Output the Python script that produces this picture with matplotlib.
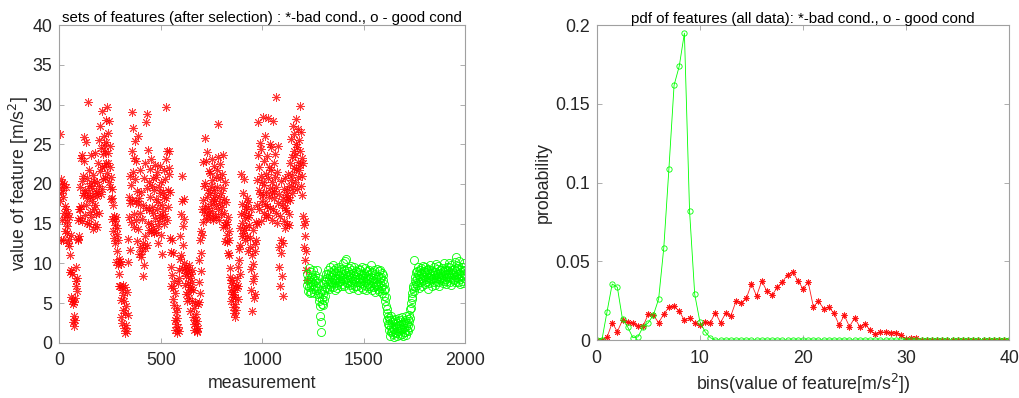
import numpy as np
import matplotlib
matplotlib.use("Agg")
import matplotlib.pyplot as plt

plt.rcParams['font.family'] = ['Liberation Sans', 'DejaVu Sans']

# ---------------- data: left panel (measurement index step 2) ----------------
red_start = 0
green_start = 1220
meas_step = 2

red_values = [
    19.5, 26.3, 17.8, 20.6, 13.0, 18.9, 15.5, 20.1, 18.3, 12.9,
    19.2, 16.4, 20.0, 15.8, 17.2, 14.1, 19.6, 16.9, 15.2, 13.8,
    14.7, 12.5, 16.3, 13.1, 15.9, 12.2, 11.0, 8.9, 13.6, 9.1,
    5.8, 8.6, 5.3, 4.9, 2.6, 5.1, 2.1, 3.4, 5.6, 2.9,
    9.5, 7.8, 7.2, 6.5, 8.1, 13.1, 12.9, 15.5, 13.4, 16.8,
    15.7, 16.9, 19.6, 23.3, 17.2, 20.4, 23.6, 15.3, 18.6, 21.0,
    22.9, 18.8, 25.9, 16.1, 19.3, 17.4, 25.3, 20.8, 18.2, 15.1,
    30.3, 18.9, 14.9, 21.8, 19.7, 16.5, 18.3, 23.7, 20.1, 15.8,
    17.9, 19.5, 14.3, 21.1, 18.6, 16.9, 20.4, 17.3, 23.9, 15.0,
    19.1, 16.2, 20.3, 18.5, 14.6, 22.7, 18.9, 25.5, 16.4, 19.8,
    21.6, 27.3, 18.7, 24.5, 19.4, 22.1, 29.2, 23.8, 20.6, 24.9,
    22.3, 26.1, 24.2, 20.8, 28.1, 22.7, 25.3, 21.4, 29.7, 23.9,
    26.4, 22.6, 27.9, 20.3, 24.8, 19.6, 22.2, 20.9, 18.1, 19.4,
    18.2, 15.6, 17.4, 14.1, 16.0, 13.2, 15.3, 12.5, 14.8, 10.2,
    15.9, 13.7, 11.6, 14.4, 9.8, 12.9, 10.6, 8.7, 7.1, 10.3,
    7.1, 5.4, 9.9, 3.2, 6.7, 2.5, 7.3, 4.1, 6.0, 1.9,
    5.3, 1.2, 3.8, 7.0, 2.2, 4.6, 1.5, 6.4, 10.2, 3.5,
    13.1, 15.8, 18.3, 11.7, 21.0, 17.6, 15.2, 19.9, 24.1, 29.1,
    18.0, 27.1, 21.5, 16.2, 23.3, 14.6, 25.4, 20.6, 17.8, 15.5,
    22.9, 19.1, 12.8, 17.5, 14.3, 26.0, 18.2, 11.2, 21.7, 16.4,
    12.1, 19.0, 10.8, 15.6, 11.5, 8.4, 17.3, 12.6, 9.8, 20.8,
    11.9, 22.6, 13.4, 27.8, 17.0, 28.8, 12.3, 19.5, 24.3, 15.1,
    20.3, 16.7, 14.2, 21.9, 18.4, 15.0, 23.2, 13.9, 19.8, 17.1,
    14.5, 20.7, 16.3, 19.2, 13.8, 22.4, 15.7, 18.1, 14.0, 20.9,
    16.9, 21.5, 14.7, 17.7, 12.5, 19.6, 15.3, 22.3, 16.1, 18.8,
    13.6, 20.2, 17.3, 15.9, 11.2, 19.0, 16.6, 21.7, 14.9, 18.4,
    20.6, 16.0, 23.1, 18.2, 29.7, 15.5, 24.2, 19.3, 17.1, 22.0,
    24.1, 21.2, 13.2, 19.0, 11.4, 9.6, 7.2, 13.0, 8.5, 6.9,
    11.3, 5.5, 7.8, 4.7, 2.8, 6.3, 1.6, 3.9, 2.3, 1.2,
    3.1, 4.4, 2.0, 7.5, 1.5, 9.1, 8.2, 10.6, 13.5, 11.1,
    16.2, 17.8, 9.4, 21.0, 14.7, 12.3, 18.1, 10.0, 15.6, 8.8,
    7.3, 9.6, 6.1, 8.4, 5.2, 9.3, 7.5, 8.9, 6.4, 9.8,
    5.6, 8.1, 7.0, 4.0, 8.6, 6.8, 9.1, 5.3, 7.7, 3.2,
    6.6, 2.4, 4.4, 1.6, 2.8, 5.0, 2.1, 3.6, 1.5, 2.7,
    1.3, 4.9, 1.8, 5.1, 7.6, 10.4, 6.3, 12.9, 9.0, 14.1,
    11.3, 13.6, 16.9, 15.2, 18.0, 22.8, 16.5, 19.7, 25.8, 17.2,
    20.1, 15.6, 22.9, 18.4, 16.1, 24.0, 19.3, 17.0, 21.6, 16.3,
    18.9, 21.4, 15.7, 19.8, 17.5, 23.1, 16.6, 20.5, 18.1, 15.4,
    19.2, 17.8, 22.3, 16.0, 18.6, 20.9, 15.9, 17.3, 21.8, 19.6,
    16.8, 23.4, 27.6, 18.3, 15.5, 20.7, 17.6, 22.5, 16.2, 18.9,
    21.2, 17.1, 19.5, 23.6, 14.6, 16.4, 18.1, 12.8, 20.3, 14.8,
    17.7, 15.2, 13.6, 12.7, 14.9, 11.3, 15.8, 12.9, 11.0, 14.1,
    9.4, 8.3, 6.6, 7.5, 5.2, 7.9, 6.1, 4.5, 7.0, 5.7,
    3.8, 6.4, 4.9, 3.2, 5.8, 7.3, 4.1, 6.9, 8.2, 5.5,
    9.6, 7.1, 10.4, 11.8, 8.7, 12.3, 14.5, 21.3, 16.2, 13.4,
    17.5, 15.1, 13.8, 18.9, 16.3, 14.2, 20.6, 15.7, 12.9, 17.2,
    14.6, 16.8, 18.2, 13.5, 15.9, 17.7, 11.6, 14.8, 16.1, 13.2,
    12.1, 9.3, 16.9, 6.7, 11.0, 4.0, 7.8, 14.2, 9.9, 5.6,
    8.4, 11.5, 6.1, 12.4, 15.2, 13.0, 17.4, 20.5, 14.9, 23.7,
    27.8, 19.3, 22.1, 16.8, 25.2, 18.7, 21.0, 15.3, 24.4, 17.9,
    20.2, 28.4, 18.6, 22.9, 16.4, 19.9, 26.0, 17.5, 21.3, 15.8,
    19.0, 23.5, 17.2, 28.3, 20.7, 16.1, 22.2, 18.4, 25.1, 19.5,
    17.0, 21.7, 24.6, 18.8, 15.4, 20.3, 27.9, 16.9, 22.6, 19.1,
    18.2, 23.8, 20.9, 16.3, 31.0, 19.6, 15.1, 21.5, 17.6, 24.8,
    12.1, 18.7, 9.6, 16.0, 7.1, 20.4, 11.3, 13.0, 8.4, 17.4,
    5.9, 12.6, 18.1, 15.3, 19.4, 17.0, 20.8, 14.4, 18.6, 16.7,
    19.2, 17.8, 15.0, 18.3, 21.2, 16.2, 19.7, 14.8, 18.0, 22.6,
    20.5, 25.7, 18.9, 23.4, 21.1, 27.3, 19.6, 24.2, 22.0, 26.3,
    23.7, 20.2, 28.2, 21.9, 25.0, 19.4, 24.6, 22.8, 26.9, 20.9,
    25.5, 21.7, 24.1, 29.8, 22.4, 26.6, 19.8, 23.3, 21.0, 18.6,
    22.7, 16.0, 14.8, 12.1, 15.3, 10.4, 13.5, 9.1, 11.6, 7.9,
]

green_values = [
    7.3, 8.6, 6.5, 7.9, 9.4, 7.0, 8.2, 6.2, 7.6, 8.9,
    7.1, 6.4, 8.3, 7.7, 9.1, 6.8, 7.4, 8.0, 6.3, 7.8,
    8.5, 7.2, 6.6, 7.9, 9.2, 6.9, 7.5, 6.1, 8.1, 5.3,
    5.8, 4.6, 6.2, 3.3, 1.3, 2.6, 4.9, 5.5, 6.7, 4.8,
    6.1, 5.4, 7.4, 6.6, 8.0, 5.9, 7.8, 7.0, 8.6, 6.9,
    8.2, 7.4, 9.1, 8.7, 6.8, 8.0, 7.6, 9.5, 8.4, 7.2,
    8.9, 7.7, 8.3, 9.8, 7.0, 8.6, 7.9, 9.2, 6.6, 8.1,
    7.5, 9.4, 8.0, 7.3, 8.8, 6.9, 9.0, 8.2, 7.6, 8.5,
    9.6, 7.8, 8.4, 7.1, 8.9, 9.3, 7.4, 8.1, 10.1, 7.9,
    8.6, 7.2, 9.1, 8.0, 10.3, 7.7, 8.8, 10.6, 7.5, 8.3,
    9.0, 7.9, 8.5, 6.8, 9.4, 8.1, 7.3, 8.7, 9.7, 7.6,
    8.2, 9.2, 7.4, 8.8, 6.9, 8.4, 7.8, 9.5, 8.0, 7.1,
    8.7, 7.6, 9.0, 8.3, 7.2, 8.9, 6.7, 8.1, 9.3, 7.7,
    8.0, 9.1, 7.5, 8.6, 7.0, 9.6, 8.2, 6.8, 8.5, 7.9,
    7.3, 8.8, 8.1, 9.4, 7.6, 6.6, 8.4, 7.9, 9.0, 7.1,
    8.5, 7.4, 9.2, 6.9, 8.0, 8.7, 7.2, 9.8, 7.7, 8.3,
    6.6, 8.9, 7.5, 8.2, 7.0, 9.1, 7.8, 6.4, 8.6, 7.3,
    8.0, 7.1, 9.3, 7.7, 6.8, 8.4, 7.4, 9.0, 6.5, 8.1,
    7.6, 9.2, 6.9, 8.3, 7.2, 8.8, 6.3, 7.9, 8.5, 6.6,
    7.4, 5.9, 6.8, 5.2, 4.6, 5.7, 3.8, 4.3, 2.9, 3.4,
    2.4, 3.1, 1.6, 2.2, 0.9, 2.8, 1.3, 2.0, 3.3, 1.5,
    2.6, 1.1, 1.9, 2.9, 0.7, 1.7, 2.3, 1.4, 3.0, 2.1,
    1.2, 2.5, 1.8, 0.8, 2.7, 1.5, 2.2, 3.1, 1.0, 1.9,
    2.8, 1.6, 2.3, 1.1, 3.2, 1.7, 0.9, 2.4, 1.4, 2.6,
    1.8, 2.9, 1.3, 2.1, 3.4, 1.0, 2.5, 1.6, 3.0, 2.2,
    1.5, 2.7, 3.5, 2.0, 4.2, 3.1, 5.0, 4.4, 5.8, 6.3,
    5.5, 6.9, 7.2, 10.4, 6.5, 7.8, 8.3, 7.0, 8.9, 7.5,
    8.1, 9.0, 7.3, 8.6, 9.5, 7.7, 8.4, 6.9, 9.2, 8.0,
    8.8, 7.6, 9.4, 8.2, 7.1, 9.7, 8.5, 7.9, 9.0, 8.3,
    7.4, 8.9, 9.6, 8.0, 7.7, 9.1, 8.6, 6.8, 8.3, 9.3,
    8.2, 7.5, 9.8, 8.7, 7.9, 8.4, 9.2, 7.2, 8.8, 8.0,
    9.0, 8.1, 7.6, 9.5, 8.5, 7.3, 8.9, 9.9, 8.2, 7.8,
    8.6, 9.3, 7.7, 8.4, 9.7, 8.0, 7.1, 8.8, 9.1, 8.3,
    7.9, 8.7, 9.4, 8.1, 7.5, 9.0, 8.5, 10.0, 7.8, 8.9,
    9.2, 8.0, 8.6, 7.4, 9.6, 8.3, 7.8, 9.1, 8.7, 10.1,
    8.4, 9.5, 7.6, 8.9, 8.2, 9.8, 7.3, 8.7, 9.2, 8.0,
    8.8, 7.9, 9.3, 8.5, 10.2, 7.7, 9.0, 8.3, 10.8, 8.6,
    9.4, 8.1, 7.6, 9.7, 8.8, 10.3, 8.0, 9.1, 7.4, 8.5,
    8.9, 9.6, 7.8, 8.4, 9.2, 7.5, 8.7, 10.0, 8.2, 9.1,
]

# ---------------- data: right panel (pdf, bins 0..40 step 0.5) ----------------
bin_start, bin_stop, bin_step = 0.0, 40.0, 0.5

pdf_bad = [
    0.0, 0.0, 0.0017, 0.011, 0.0053, 0.0127, 0.0114, 0.0106, 0.0089, 0.0089,
    0.0165, 0.0157, 0.011, 0.0165, 0.0208, 0.0216, 0.0182, 0.0127, 0.014, 0.011,
    0.0095, 0.0114, 0.011, 0.0174, 0.011, 0.017, 0.0153, 0.0246, 0.0237, 0.0265,
    0.0356, 0.028, 0.0375, 0.031, 0.0284, 0.0335, 0.0369, 0.0415, 0.0432, 0.0377,
    0.0326, 0.0369, 0.0212, 0.0246, 0.02, 0.0208, 0.017, 0.0095, 0.0157, 0.0085,
    0.014, 0.0085, 0.0102, 0.0064, 0.0036, 0.0051, 0.0051, 0.0047, 0.0047, 0.003,
    0.0004, 0.0013, 0.0013, 0.0, 0.0, 0.0, 0.0, 0.0, 0.0, 0.0,
    0.0, 0.0, 0.0, 0.0, 0.0, 0.0, 0.0, 0.0, 0.0, 0.0,
    0.0,
]

pdf_good = [
    0.0, 0.0, 0.018, 0.0356, 0.0335, 0.0131, 0.0083, 0.0015, 0.002, 0.0085,
    0.011, 0.016, 0.026, 0.0585, 0.109, 0.162, 0.174, 0.195, 0.082, 0.029,
    0.0117, 0.0053, 0.0015, 0.0, 0.0, 0.0, 0.0, 0.0, 0.0, 0.0,
    0.0, 0.0, 0.0, 0.0, 0.0, 0.0, 0.0, 0.0, 0.0, 0.0,
    0.0, 0.0, 0.0, 0.0, 0.0, 0.0, 0.0, 0.0, 0.0, 0.0,
    0.0, 0.0, 0.0, 0.0, 0.0, 0.0, 0.0, 0.0, 0.0, 0.0,
    0.0, 0.0, 0.0, 0.0, 0.0, 0.0, 0.0, 0.0, 0.0, 0.0,
    0.0, 0.0, 0.0, 0.0, 0.0, 0.0, 0.0, 0.0, 0.0, 0.0,
    0.0,
]

left_xticks = [0, 500, 1000, 1500, 2000]
left_yticks = [0, 5, 10, 15, 20, 25, 30, 35, 40]
right_xticks = [0, 10, 20, 30, 40]
right_yticks = [0, 0.05, 0.1, 0.15, 0.2]
right_yticklabels = ['0', '0.05', '0.1', '0.15', '0.2']

# ---------------- drawing ----------------
RED = '#ff0000'
GREEN = '#00ff00'
SPINE = '#a0a0a0'
TXT = '#262626'
asterisk = (8, 2, 0)
FS = 12.8

fig = plt.figure(figsize=(10.19, 3.98), dpi=100)
ax1 = fig.add_axes([0.0582, 0.139, 0.3984, 0.7975])
ax2 = fig.add_axes([0.5856, 0.1457, 0.4049, 0.7907])

red_x = red_start + meas_step * np.arange(len(red_values))
green_x = green_start + meas_step * np.arange(len(green_values))

ax1.plot(red_x, red_values, linestyle='none', marker=asterisk, markersize=6.2,
         markeredgecolor=RED, markeredgewidth=0.65, alpha=0.8)
ax1.plot(green_x, green_values, linestyle='none', marker='o', markersize=5.8,
         markerfacecolor='none', markeredgecolor=GREEN, markeredgewidth=0.6)

ax1.set_xlim(0, 2000)
ax1.set_ylim(0, 40)
ax1.set_xticks(left_xticks)
ax1.set_yticks(left_yticks)
ax1.set_xlabel('measurement', fontsize=FS, color=TXT, labelpad=4)
ax1.set_ylabel('value of feature [m/s$^2$]', fontsize=FS, color=TXT, labelpad=1)
ax1.set_title('sets of features (after selection) : *-bad cond., o - good cond',
              fontsize=10.8, color='black', pad=2)

bins = np.arange(bin_start, bin_stop + bin_step / 2, bin_step)
ax2.plot(bins, pdf_bad, '-', color=RED, linewidth=0.6, marker=asterisk,
         markersize=4.2, markeredgewidth=0.7, alpha=0.9)
ax2.plot(bins, pdf_good, '-', color=GREEN, linewidth=0.6, marker='o',
         markersize=3.8, markerfacecolor='none', markeredgewidth=0.6)
ax2.set_xlim(0, 40)
ax2.set_ylim(0, 0.2)
ax2.set_xticks(right_xticks)
ax2.set_yticks(right_yticks)
ax2.set_yticklabels(right_yticklabels)
ax2.set_xlabel('bins(value of feature[m/s$^2$])', fontsize=FS, color=TXT, labelpad=4)
ax2.set_ylabel('probability', fontsize=FS, color=TXT, labelpad=2)
ax2.set_title('pdf of features (all data): *-bad cond., o - good cond',
              fontsize=10.8, color='black', pad=2)

for ax in (ax1, ax2):
    for s in ax.spines.values():
        s.set_color(SPINE)
        s.set_linewidth(0.8)
    ax.tick_params(direction='in', top=True, right=True, length=3.5,
                   width=0.6, color=SPINE, labelsize=FS, labelcolor=TXT)
    ax.tick_params(axis='x', pad=7)
    ax.tick_params(axis='y', pad=5)

fig.savefig('out.png', dpi=100)
